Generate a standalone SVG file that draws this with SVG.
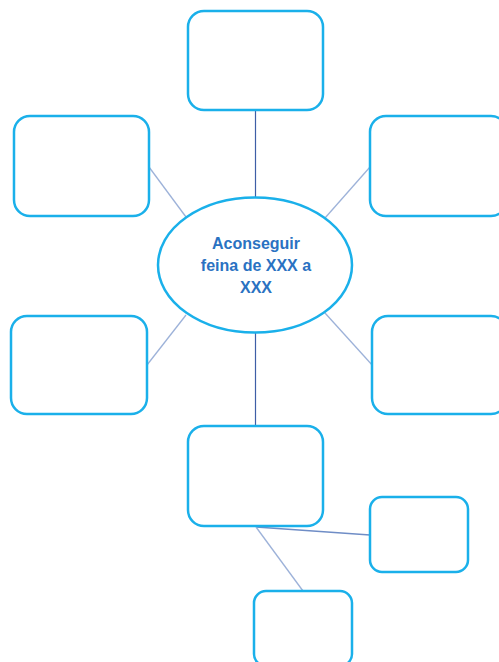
<svg xmlns="http://www.w3.org/2000/svg" width="499" height="662" viewBox="0 0 499 662">
<style>
.box{fill:#ffffff;stroke:#1AB0EA;stroke-width:2.5}
.dark{stroke:#3E5EA6;stroke-width:1.2;fill:none}
.light{stroke:#9DB2D9;stroke-width:1.3;fill:none}
.mid{stroke:#6F8DC6;stroke-width:1.3;fill:none}
.lbl{font-family:"Liberation Sans",Arial,sans-serif;font-weight:bold;font-size:16px;fill:#2A72C2;text-anchor:middle}
</style>
<rect width="499" height="662" fill="#ffffff"/>
<g id="connectors">
<line class="dark" x1="255.5" y1="110" x2="255.5" y2="197"/>
<line class="dark" x1="255.5" y1="333" x2="255.5" y2="426"/>
<line class="light" x1="149" y1="167" x2="186" y2="217"/>
<line class="light" x1="370" y1="167" x2="325" y2="218"/>
<line class="light" x1="147" y1="365" x2="186" y2="315"/>
<line class="light" x1="373" y1="366" x2="325" y2="313"/>
<line class="mid" x1="256" y1="527" x2="370" y2="535"/>
<line class="light" x1="256" y1="527" x2="303" y2="591"/>
</g>
<g id="top"><rect class="box" x="188" y="11" width="135" height="99" rx="16"/></g>
<g id="left-top"><rect class="box" x="14" y="116" width="135" height="100" rx="16"/></g>
<g id="right-top"><rect class="box" x="370" y="116" width="137" height="100" rx="16"/></g>
<g id="left-bottom"><rect class="box" x="11" y="316" width="136" height="98" rx="16"/></g>
<g id="right-bottom"><rect class="box" x="372" y="316" width="135" height="98" rx="16"/></g>
<g id="bottom"><rect class="box" x="188" y="426" width="135" height="100" rx="16"/></g>
<g id="bottom-right"><rect class="box" x="370" y="497" width="98" height="75" rx="12"/></g>
<g id="bottom-bottom"><rect class="box" x="254" y="591" width="98" height="75" rx="12"/></g>
<g id="center">
<ellipse cx="255" cy="265" rx="97" ry="67.5" fill="#ffffff" stroke="#1AB0EA" stroke-width="2.5"/>
<text class="lbl" x="256" y="249">Aconseguir</text>
<text class="lbl" x="256" y="271">feina de XXX a</text>
<text class="lbl" x="256" y="293">XXX</text>
</g>
</svg>
